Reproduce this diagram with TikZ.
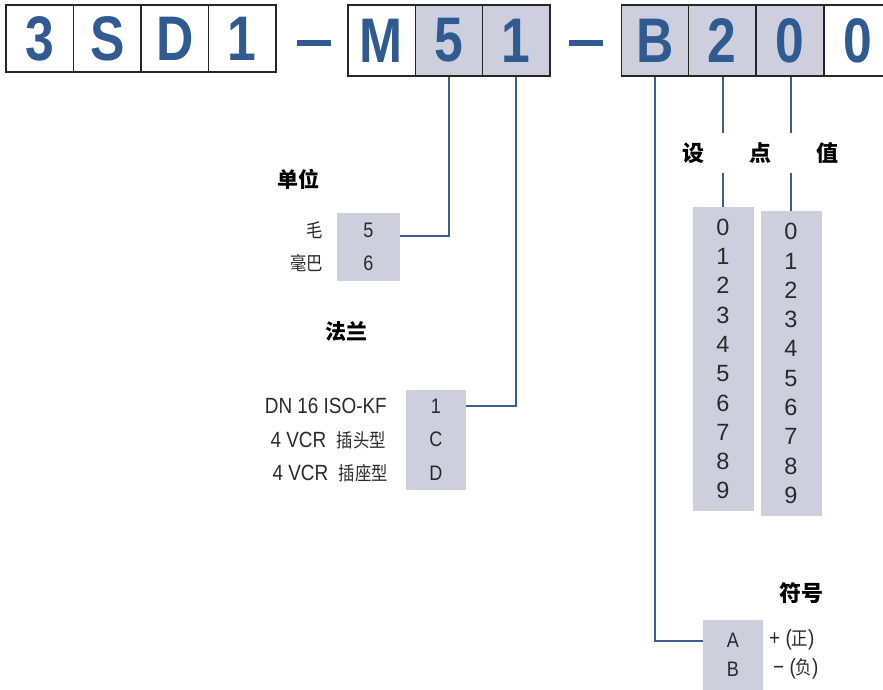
\documentclass[tikz,border=0pt]{standalone}
\usepackage{fontspec}
\setmainfont{Liberation Sans}
\newfontfamily\bigsans[FakeStretch=0.82]{Liberation Sans}
\newfontfamily\narrowsans[FakeStretch=0.86]{Liberation Sans}
\newfontfamily\cjk{Noto Sans CJK SC}
\newfontfamily\cjknarrow[FakeStretch=0.86]{Noto Sans CJK SC}
\definecolor{codeblue}{HTML}{2F5B92}
\definecolor{linkblue}{HTML}{3D5E8C}
\definecolor{cellgray}{HTML}{CDCFDD}
\definecolor{textgray}{HTML}{2A2A2A}
\tikzset{
  cell/.style={draw=black!85, line width=1.5pt, minimum width=67.5pt, minimum height=67pt,
    inner sep=0pt, text=codeblue, font=\bigsans\bfseries\fontsize{63}{63}\selectfont},
  cellfill/.style={cell, fill=cellgray},
  dashbar/.style={fill=codeblue, minimum width=34pt, minimum height=6pt, inner sep=0pt},
  optbox/.style={fill=cellgray, inner sep=0pt, align=center, text=textgray},
  heading/.style={inner sep=0pt, font=\cjk\bfseries\fontsize{21}{21}\selectfont},
  label/.style={inner sep=0pt, text=textgray, font=\narrowsans\fontsize{22}{22}\selectfont},
  link/.style={draw=linkblue, line width=1.8pt}
}
\begin{document}
\begin{tikzpicture}[x=1pt,y=-1pt]
    \useasboundingbox (0,0) rectangle (883,689);

    % code row
    \node[cell] (c3) at (39.75,38.5) {3};
    \node[cell] (cS) at (107.25,38.5) {S};
    \node[cell] (cD) at (174.75,38.5) {D};
    \node[cell] (cOne) at (242.25,38.5) {1};
    \node[dashbar] (dashA) at (314,43) {};
    \node[cell, minimum height=71pt] (cM) at (381.5,40.5) {M};
    \node[cellfill, minimum height=71pt] (c5) at (449,40.5) {5};
    \node[cellfill, minimum height=71pt] (c1) at (516,40.5) {1};
    \node[dashbar] (dashB) at (585.5,43) {};
    \node[cellfill, minimum height=71pt] (cB) at (655,40.5) {B};
    \node[cellfill, minimum height=71pt] (c2) at (722,40.5) {2};
    \node[cellfill, minimum height=71pt] (c0a) at (790,40.5) {0};
    \node[cell, minimum height=71pt] (c0b) at (858,40.5) {0};

    % unit
    \node[heading, anchor=west] (unitlbl) at (277,179) {单位};
    \node[optbox, minimum width=63pt, minimum height=68pt,
          font=\narrowsans\fontsize{21}{33}\selectfont] (unitbox) at (368.5,247) {5\\6};
    \node[label, anchor=east, font=\cjknarrow\fontsize{19}{19}\selectfont] (torr) at (323,230) {毛};
    \node[label, anchor=east, font=\cjknarrow\fontsize{19}{19}\selectfont] (mbar) at (323,263) {毫巴};

    % flange
    \node[heading] (flangelbl) at (346,332) {法兰};
    \node[optbox, minimum width=60pt, minimum height=100pt,
          font=\narrowsans\fontsize{21}{33.5}\selectfont] (flangebox) at (436,439.5) {1\\C\\D};
    \node[label, anchor=east] (kf) at (387,406) {DN 16 ISO-KF};
    \node[label, anchor=east] (vcrm) at (386,440) {4 VCR\ \ {\cjknarrow\fontsize{19}{19}\selectfont 插头型}};
    \node[label, anchor=east] (vcrf) at (388,473) {4 VCR\ \ {\cjknarrow\fontsize{19}{19}\selectfont 插座型}};

    % set point
    \node[heading, minimum height=40pt, font=\cjk\bfseries\fontsize{22}{22}\selectfont] (setS) at (693,153) {设};
    \node[heading, minimum height=40pt, font=\cjk\bfseries\fontsize{22}{22}\selectfont] (setD) at (760,153) {点};
    \node[heading, minimum height=40pt, font=\cjk\bfseries\fontsize{22}{22}\selectfont] (setZ) at (827,153) {值};
    \node[optbox, minimum width=61pt, minimum height=304pt,
          font=\fontsize{23.5}{29.3}\selectfont] (colA) at (723,359) {0\\1\\2\\3\\4\\5\\6\\7\\8\\9};
    \node[optbox, minimum width=61pt, minimum height=305pt,
          font=\fontsize{23.5}{29.3}\selectfont] (colB) at (791,363.5) {0\\1\\2\\3\\4\\5\\6\\7\\8\\9};

    % sign
    \node[heading, font=\cjk\bfseries\fontsize{22}{22}\selectfont] (signlbl) at (801,593) {符号};
    \node[optbox, anchor=north, minimum width=60pt, minimum height=80pt] (signbox) at (733,620) {};
    \node[optbox, fill=none, font=\narrowsans\fontsize{21}{29}\selectfont] (signtxt) at (733,654.5) {A\\B};
    \node[label, anchor=west] (plus) at (769,640) {+ ({\cjknarrow\fontsize{19}{19}\selectfont 正})};
    \node[label, anchor=west] (minus) at (773,669) {− ({\cjknarrow\fontsize{19}{19}\selectfont 负})};

    \draw[link] (c5.south) |- ([yshift=11pt]unitbox.east);
    \draw[link] (c1.south) |- ([yshift=33.5pt]flangebox.east);
    \draw[link] (cB.south) |- ([yshift=19pt]signbox.west);
    \draw[link] (colA.north |- c2.south) -- (colA.north |- setD.north);
    \draw[link] (colA.north |- setD.south) -- (colA.north);
    \draw[link] (colB.north |- c0a.south) -- (colB.north |- setD.north);
    \draw[link] (colB.north |- setD.south) -- (colB.north);
\end{tikzpicture}
\end{document}
